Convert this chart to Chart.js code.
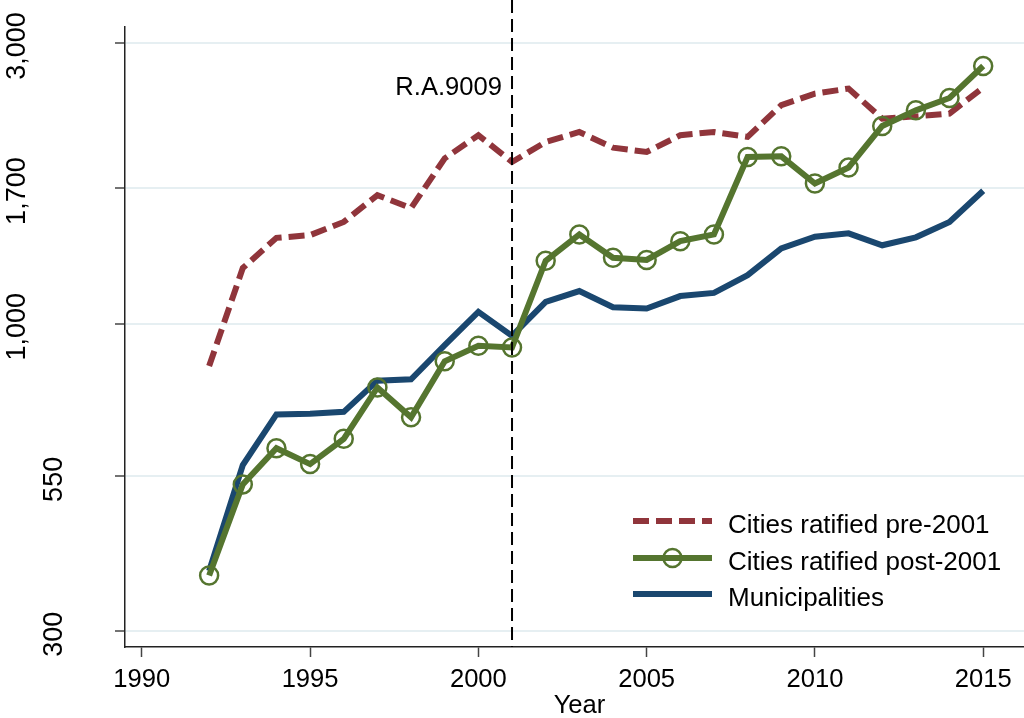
<!DOCTYPE html>
<html>
<head>
<meta charset="utf-8">
<title>Cities and municipalities, 1992-2015</title>
<script src="https://cdn.jsdelivr.net/npm/chart.js@4.4.1/dist/chart.umd.min.js"></script>
<style>
    html, body { margin: 0; padding: 0; background: #fff; overflow: hidden; }
    #view { position: relative; width: 1024px; height: 718px; overflow: hidden; }
    #wrap { position: absolute; left: 0; top: 0; width: 1034px; height: 718px; }
    #chart { display: block; width: 1034px; height: 718px; }
</style>
</head>
<body>
<div id="view"><div id="wrap"><canvas id="chart" width="1034" height="718"></canvas></div></div>
<script>
// series, one value per year
const years = [1992, 1993, 1994, 1995, 1996, 1997, 1998, 1999, 2000, 2001, 2002, 2003,
               2004, 2005, 2006, 2007, 2008, 2009, 2010, 2011, 2012, 2013, 2014, 2015];
const citiesPre = [847, 1243, 1399, 1414, 1489, 1654, 1572, 1910, 2091, 1883, 2036, 2118,
                   1992, 1958, 2091, 2118, 2077, 2352, 2461, 2510, 2231, 2251, 2276, 2520];
const citiesPost = [373, 533, 614, 577, 637, 779, 693, 863, 917, 911, 1279, 1418,
                    1294, 1283, 1381, 1418, 1920, 1925, 1731, 1843, 2168, 2305, 2419, 2742];
const municipalities = [380, 575, 701, 703, 708, 800, 804, 919, 1047, 953, 1089, 1136,
                        1066, 1061, 1114, 1128, 1209, 1342, 1405, 1424, 1359, 1402, 1489, 1682];

const seriesNames = ["Cities ratified pre-2001", "Cities ratified post-2001", "Municipalities"];

// axis ticks
const xTicks = [1990, 1995, 2000, 2005, 2010, 2015];
const yTicks = [300, 550, 1000, 1700, 3000];

// reference line for the local government code
const lawYear = 2001;
const lawLabel = "R.A.9009";

const FONT = "'Liberation Sans', Arial, sans-serif";
const RED = "#90353b";
const GREEN = "#55752f";
const NAVY = "#1a476f";

const toPoints = vals => years.map((yr, i) => ({ x: yr, y: vals[i] }));

// reference line, y labels and legend drawn on top of the plot
const extras = {
    id: "extras",
    afterDatasetsDraw(chart) {
        const { ctx, chartArea, scales } = chart;
        const px = scales.x.getPixelForValue(lawYear);

        ctx.save();
        ctx.strokeStyle = "#000";
        ctx.lineWidth = 2;
        ctx.setLineDash([13, 6]);
        ctx.beginPath();
        ctx.moveTo(px, 0);
        ctx.lineTo(px, chartArea.bottom);
        ctx.stroke();
        ctx.setLineDash([]);

        ctx.fillStyle = "#000";
        ctx.font = `25.6px ${FONT}`;
        ctx.textAlign = "right";
        ctx.textBaseline = "alphabetic";
        ctx.fillText(lawLabel, px - 10, 95);
        ctx.restore();
    },
    afterDraw(chart) {
        const { ctx, scales } = chart;

        // vertical tick labels on the y axis
        ctx.save();
        ctx.fillStyle = "#000";
        ctx.font = `27px ${FONT}`;
        ctx.textAlign = "center";
        ctx.textBaseline = "alphabetic";
        yTicks.forEach(v => {
            const label = v.toLocaleString("en-US");
            const py = scales.y.getPixelForValue(v);
            const bx = label.length > 3 ? 25 : 62;
            ctx.save();
            ctx.translate(bx, py + 3);
            ctx.rotate(-Math.PI / 2);
            ctx.fillText(label, 0, 0);
            ctx.restore();
        });
        ctx.restore();

        // legend
        const lx0 = 633, lx1 = 712, tx = 728;
        const rows = [521, 558, 594];
        const styles = [
            { color: RED, dash: [16, 7], marker: false },
            { color: GREEN, dash: [], marker: true },
            { color: NAVY, dash: [], marker: false }
        ];
        ctx.save();
        ctx.font = `26px ${FONT}`;
        ctx.textAlign = "left";
        ctx.textBaseline = "alphabetic";
        rows.forEach((ry, i) => {
            const st = styles[i];
            ctx.strokeStyle = st.color;
            ctx.lineWidth = 6;
            ctx.lineCap = "butt";
            ctx.setLineDash(st.dash);
            ctx.beginPath();
            ctx.moveTo(lx0, ry);
            ctx.lineTo(lx1, ry);
            ctx.stroke();
            ctx.setLineDash([]);
            if (st.marker) {
                ctx.lineWidth = 2.5;
                ctx.beginPath();
                ctx.arc((lx0 + lx1) / 2, ry, 9, 0, Math.PI * 2);
                ctx.stroke();
            }
            ctx.fillStyle = "#000";
            ctx.fillText(seriesNames[i], tx, ry + 12);
        });
        ctx.restore();
    }
};

new Chart(document.getElementById("chart"), {
    type: "line",
    data: {
        datasets: [
            {
                label: seriesNames[0],
                data: toPoints(citiesPre),
                borderColor: RED,
                borderWidth: 6,
                borderDash: [16, 7],
                borderCapStyle: "butt",
                pointRadius: 0,
                tension: 0,
                order: 2
            },
            {
                label: seriesNames[1],
                data: toPoints(citiesPost),
                borderColor: GREEN,
                borderWidth: 6,
                pointRadius: 9,
                pointBorderWidth: 2.5,
                pointBorderColor: GREEN,
                pointBackgroundColor: "rgba(0,0,0,0)",
                tension: 0,
                order: 0
            },
            {
                label: seriesNames[2],
                data: toPoints(municipalities),
                borderColor: NAVY,
                borderWidth: 6,
                pointRadius: 0,
                tension: 0,
                order: 1
            }
        ]
    },
    options: {
        responsive: false,
        animation: false,
        layout: {
            autoPadding: false,
            padding: { top: 27, right: 0, bottom: 0, left: 0 }
        },
        plugins: {
            legend: { display: false },
            tooltip: { enabled: false }
        },
        scales: {
            x: {
                type: "linear",
                min: 1989.5,
                max: 2016.51,
                afterBuildTicks: s => { s.ticks = xTicks.map(v => ({ value: v })); },
                afterFit: s => {
                    s.height = 71;
                    s.paddingLeft = 0;
                    s.paddingRight = 0;
                },
                ticks: {
                    color: "#000",
                    font: { family: FONT, size: 25.6 },
                    padding: 8,
                    maxRotation: 0,
                    callback: v => String(v)
                },
                grid: {
                    drawOnChartArea: false,
                    tickLength: 10,
                    tickColor: "#444",
                    tickWidth: 1.5
                },
                border: { color: "#222", width: 1.5 },
                title: {
                    display: true,
                    text: "Year",
                    color: "#000",
                    font: { family: FONT, size: 25.6 },
                    padding: { top: 0, bottom: -3 }
                }
            },
            y: {
                type: "logarithmic",
                min: 282,
                max: 3194,
                afterBuildTicks: s => { s.ticks = yTicks.map(v => ({ value: v })); },
                afterFit: s => {
                    s.width = 125;
                    s.paddingTop = 0;
                    s.paddingBottom = 0;
                },
                ticks: { display: false },
                grid: {
                    color: "#e6eff2",
                    lineWidth: 2,
                    tickLength: 10,
                    tickColor: "#444",
                    tickWidth: 1.5
                },
                border: { color: "#222", width: 1.5 }
            }
        }
    },
    plugins: [extras]
});
</script>
</body>
</html>
